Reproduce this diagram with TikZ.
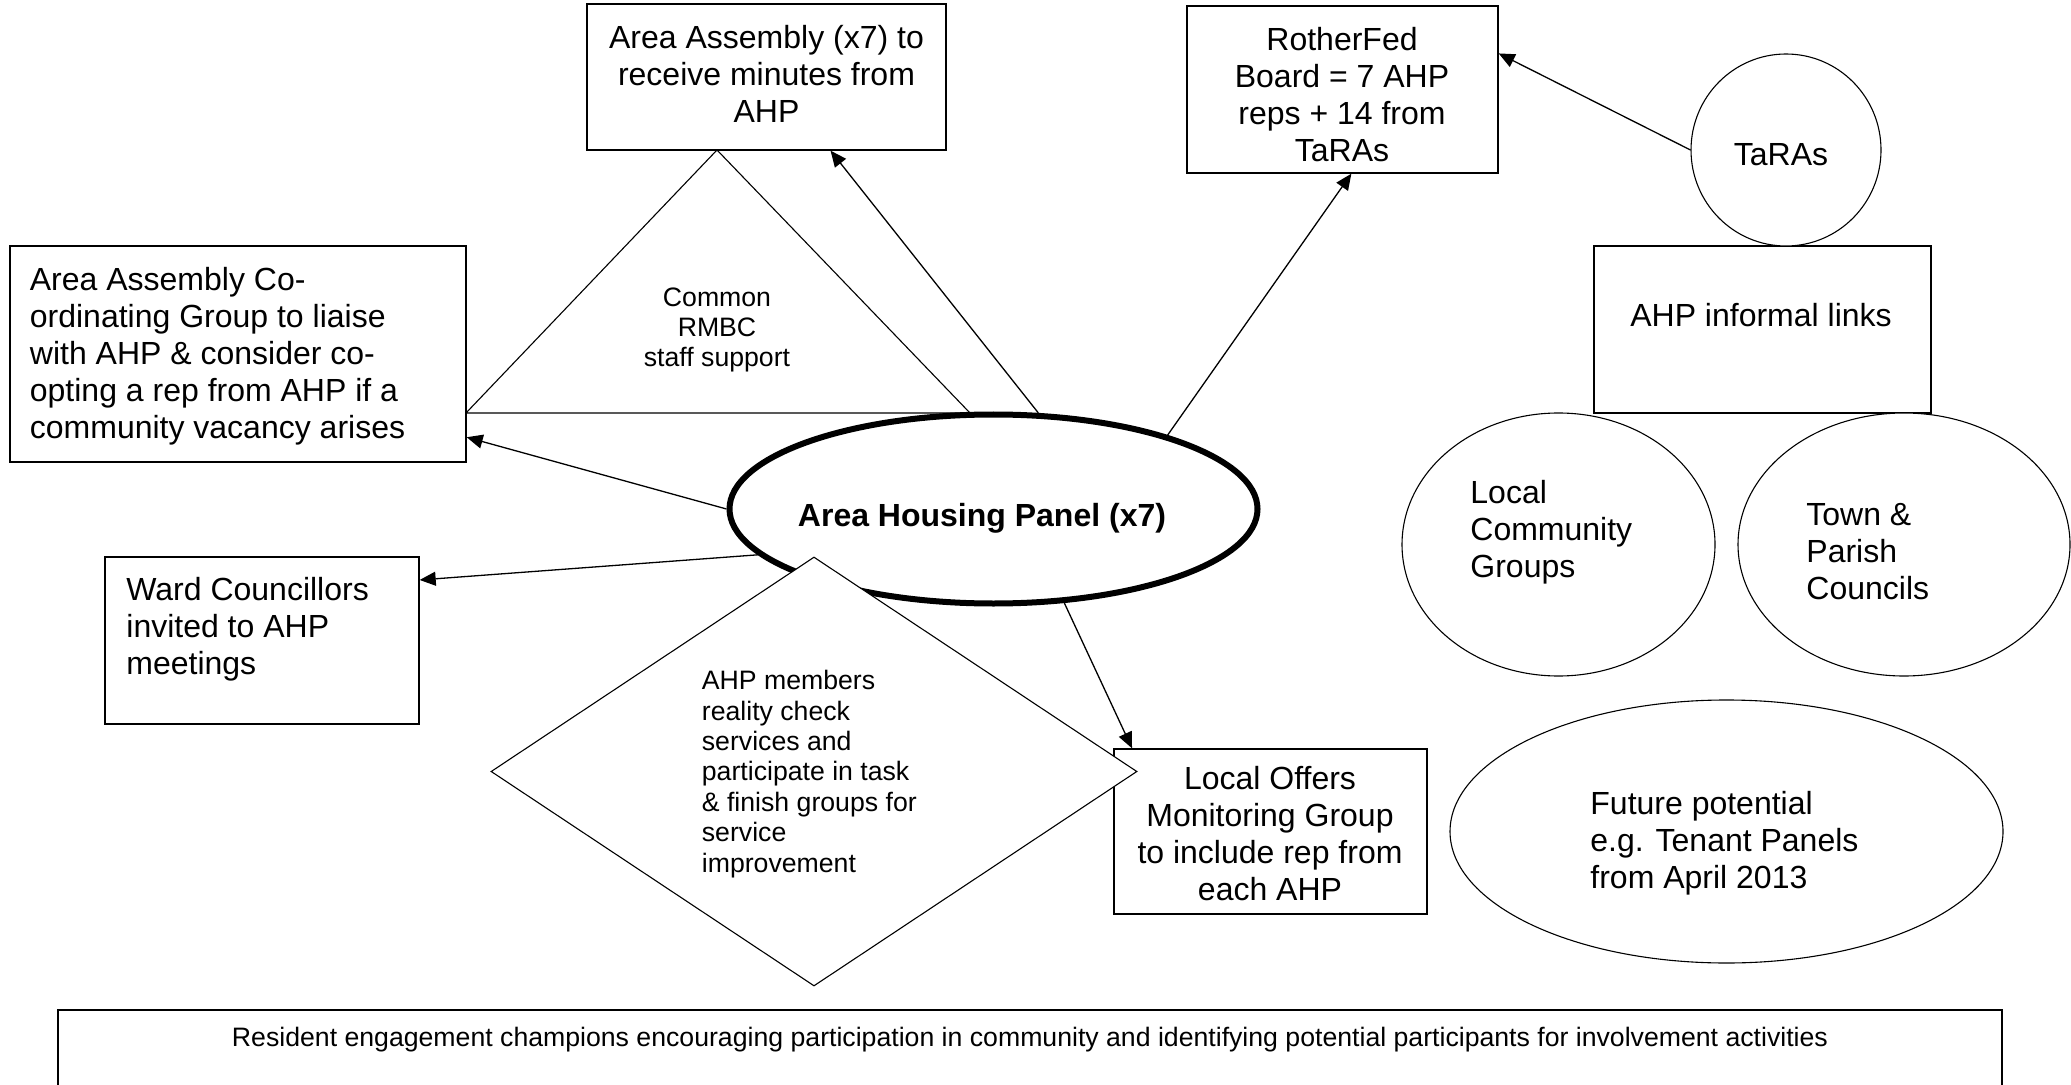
\documentclass[tikz,border=0pt]{standalone}
\usepackage{fontspec}
\setmainfont{Liberation Sans}
\usetikzlibrary{arrows.meta,positioning,shapes.geometric}

\begin{document}
\begin{tikzpicture}[x=0.5pt,y=-0.5pt,>={Triangle[length=8pt,width=7pt]},
  box/.style={draw,line width=0.7pt,inner sep=0pt,fill=white},
  oval/.style={draw,ellipse,line width=0.55pt,inner sep=0pt,fill=white},
  big/.style={font=\fontsize{16}{18.5}\selectfont,inner sep=0pt},
  small/.style={font=\fontsize{13.33}{15.2}\selectfont,inner sep=0pt},
  link/.style={->,line width=0.65pt}]
\useasboundingbox (0,0) rectangle (2071,1085);
% staff support triangle
\draw[line width=0.55pt] (466,413) -- (717,150) -- (970,413) -- cycle;
\node[small,anchor=north,align=center] (sup) at (717,287) {Common\\RMBC\\staff support};
% boxes
\node[box,minimum width=179.5pt,minimum height=73pt] (asm) at (766.5,77) {};
\node[box,minimum width=228pt,minimum height=108pt] (cog) at (238,354) {};
\node[box,minimum width=157pt,minimum height=83.5pt] (ward) at (262,640.5) {};
\node[box,minimum width=155.5pt,minimum height=83.5pt] (rf) at (1342.5,89.5) {};
\node[box,minimum width=168.5pt,minimum height=83.5pt] (links) at (1762.5,329.5) {};
\node[box,minimum width=156.5pt,minimum height=82.5pt] (offers) at (1270.5,831.5) {};
\node[box,minimum width=972pt,minimum height=50pt] (champ) at (1030,1060) {};
% ovals
\node[oval,minimum width=264pt,minimum height=94.5pt,line width=3pt] (ahp) at (993.5,509) {};
\node[oval,minimum width=95pt,minimum height=96pt] (taras) at (1786,150) {};
\node[oval,minimum width=156.5pt,minimum height=131.5pt] (lcg) at (1558.5,544.5) {};
\node[oval,minimum width=166pt,minimum height=131.5pt] (tpc) at (1904,544.5) {};
\node[oval,minimum width=276.5pt,minimum height=131.5pt] (fut) at (1726.5,831.5) {};
\node[draw,diamond,line width=0.55pt,inner sep=0pt,fill=white,minimum width=323pt,minimum height=214.5pt] (chk) at (814,771.5) {};
% texts
\node[big,anchor=north,align=center] (asm-t) at (766.5,25) {Area Assembly (x7) to\\receive minutes from\\AHP};
\node[big,anchor=north west,align=left] (cog-t) at (29.5,267) {Area Assembly Co-\\ordinating Group to liaise\\with AHP \& consider co-\\opting a rep from AHP if a\\community vacancy arises};
\node[big,anchor=north west,align=left] (ward-t) at (126,577) {Ward Councillors\\invited to AHP\\meetings};
\node[big,anchor=north,align=center] (rf-t) at (1342,27) {RotherFed\\Board = 7 AHP\\reps + 14 from\\TaRAs};
\node[big,anchor=north] (taras-t) at (1781,143) {TaRAs};
\node[big,anchor=north] (links-t) at (1761,303) {AHP informal links};
\node[big,anchor=north west,align=left] (lcg-t) at (1470,480) {Local\\Community\\Groups};
\node[big,anchor=north west,align=left] (tpc-t) at (1806,503) {Town \&\\Parish\\Councils};
\node[big,anchor=north,align=center] (offers-t) at (1270,766) {Local Offers\\Monitoring Group\\to include rep from\\each AHP};
\node[big,anchor=north west,align=left] (fut-t) at (1590,791) {Future potential\\e.g. Tenant Panels\\from April 2013};
\node[small,anchor=north west,align=left] (chk-t) at (701.5,670) {AHP members\\reality check\\services and\\participate in task\\\& finish groups for\\service\\improvement};
\node[small,anchor=north] (champ-t) at (1030,1027) {Resident engagement champions encouraging participation in community and identifying potential participants for involvement activities};
\node[big,font=\fontsize{16}{18.5}\selectfont\bfseries,anchor=base] (ahp-t) at (982,526) {Area Housing Panel (x7)};
% connectors
\draw[link] (ahp.65.6) -- (asm.-49);
\draw[link] (ahp.180) -- (cog.-20);
\draw[link] (ahp.191.3) -- (ward.21);
\draw[link] (ahp.-53.2) -- (offers.149);
\draw[link] (ahp.23.6) -- (rf.-84);
\draw[link] (taras.180) -- (rf.13);
\end{tikzpicture}
\end{document}
